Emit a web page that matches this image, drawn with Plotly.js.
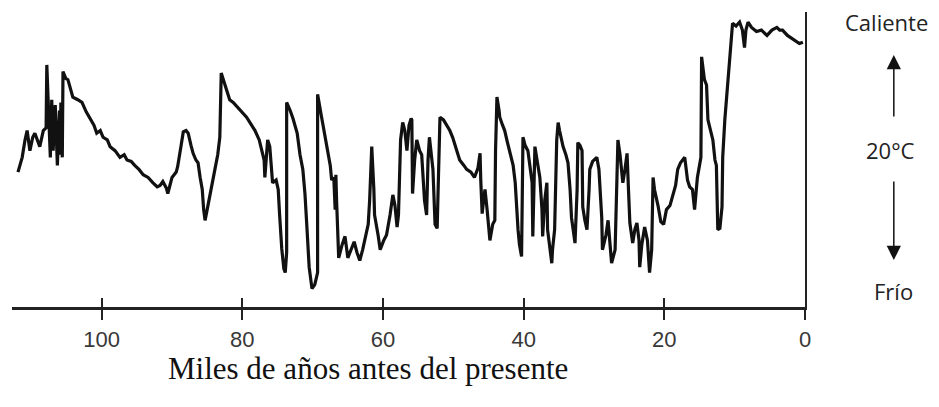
<!DOCTYPE html>
<html>
<head>
<meta charset="utf-8">
<script src="https://cdn.plot.ly/plotly-3.0.1.min.js"></script>
<style>html,body{margin:0;padding:0;background:#fff;}#chart{width:939px;height:407px;}</style>
</head>
<body>
<div id="chart"></div>
<script>
// Thousands of years before present
const kyrBP = [
111.9,111.6,111.3,110.9,110.6,110.2,109.8,109.5,109.0,108.8,108.3,107.9,107.8,107.5,107.3,107.1,106.9,106.6,106.3,106.0,105.9,105.8,105.6,105.5,105.1,104.8,104.4,104.1,103.4,102.8,102.2,101.7,101.1,100.7,100.2,99.8,99.2,98.8,98.1,97.4,96.8,96.4,95.8,95.3,94.7,94.1,
93.4,92.7,92.1,91.7,91.3,90.8,90.6,90.3,90.0,89.4,89.2,88.7,88.4,88.0,87.7,87.3,87.0,86.6,86.3,86.0,85.7,85.5,85.3,85.0,84.7,84.3,83.9,83.5,83.2,83.0,82.6,82.2,81.8,81.3,80.8,80.3,79.8,79.4,78.8,78.2,77.6,77.2,76.9,76.8,76.5,76.4,76.1,75.8,75.7,75.2,74.9,74.7,74.4,74.1,73.9,73.7,73.7,
73.2,72.8,72.2,71.8,71.4,71.1,70.8,70.5,70.1,69.7,69.3,69.3,68.8,68.4,68.0,67.5,67.3,67.0,66.8,66.7,66.6,66.3,65.8,65.4,65.0,64.5,64.1,63.7,63.3,62.9,62.4,62.1,61.9,61.7,61.6,61.3,61.2,60.7,60.4,59.9,59.5,59.0,58.6,58.3,58.0,57.8,57.5,57.2,56.9,56.6,56.3,56.0,55.9,55.8,55.5,55.2,54.8,54.5,54.1,53.8,53.6,53.4,53.1,52.9,52.6,52.3,52.2,
51.9,51.4,50.9,50.5,50.1,49.5,49.1,48.5,48.1,47.5,47.0,46.5,46.2,46.1,45.9,45.7,45.5,45.2,44.8,44.4,44.1,44.0,43.8,43.5,43.4,43.0,42.7,42.3,42.0,41.5,41.2,41.0,40.8,40.6,40.3,40.1,39.8,39.4,39.1,38.8,38.7,38.4,38.1,37.7,37.4,37.3,37.0,36.7,36.6,36.3,36.0,35.9,35.6,35.3,35.1,34.9,34.4,34.0,33.7,33.4,33.2,32.7,32.4,32.3,32.0,31.7,31.6,31.3,31.0,30.7,30.6,30.2,29.6,29.3,28.9,28.8,28.3,28.0,27.8,27.5,27.0,26.8,26.6,26.3,25.9,25.6,25.3,25.1,24.9,24.5,24.2,23.9,23.6,23.5,23.2,22.8,22.4,22.1,21.8,21.6,21.4,20.9,20.5,20.1,
19.7,19.2,18.8,18.4,18.1,17.7,17.1,16.7,16.4,16.0,15.7,15.3,14.8,14.7,14.3,14.0,13.8,13.4,13.1,12.8,12.6,12.4,12.1,11.8,11.7,11.4,11.1,10.8,10.7,10.3,9.8,9.3,8.9,8.6,8.4,8.1,7.6,6.9,6.2,5.4,4.7,4.0,3.6,3.2,2.5,1.9,1.2,0.8,0.3
];
// Temperature relative to the warmest level (°C)
const tempAnomaly = [
-11.2,-10.7,-10.1,-8.8,-8.1,-9.6,-8.6,-8.3,-9.0,-9.3,-8.1,-7.9,-3.2,-7.3,-10.1,-5.8,-9.6,-6.2,-10.7,-6.6,-9.9,-6.0,-10.1,-3.7,-4.2,-4.3,-5.1,-5.6,-5.8,-6.0,-6.7,-7.2,-7.7,-8.3,-8.1,-8.6,-8.8,-9.3,-9.6,-10.1,-9.9,-10.3,-10.4,-10.7,-11.0,-11.4,
-11.6,-12.0,-12.3,-12.2,-11.9,-12.4,-12.8,-12.2,-11.6,-11.2,-10.8,-9.2,-8.2,-8.1,-8.3,-9.2,-9.8,-10.3,-10.5,-11.6,-12.5,-14.0,-14.8,-14.0,-13.1,-12.2,-11.0,-9.9,-8.6,-3.8,-4.5,-5.3,-5.8,-6.0,-6.3,-6.6,-6.9,-7.1,-7.6,-8.1,-8.8,-9.6,-10.3,-11.6,-9.2,-8.8,-9.3,-11.0,-12.0,-11.8,-12.5,-14.4,-16.9,-18.4,-18.7,-17.2,-6.0,
-6.6,-7.2,-8.3,-9.9,-11.0,-12.8,-15.5,-18.3,-19.9,-19.6,-18.7,-5.4,-6.9,-8.1,-9.2,-10.7,-11.8,-11.6,-14.0,-11.4,-13.3,-17.6,-16.6,-16.0,-17.6,-16.9,-16.4,-17.2,-17.8,-17.0,-15.7,-15.1,-13.3,-9.6,-9.3,-12.5,-14.4,-15.9,-17.0,-16.3,-15.9,-14.4,-12.9,-13.7,-15.3,-14.4,-8.8,-7.5,-8.1,-9.6,-7.7,-7.2,-7.3,-12.8,-10.3,-8.8,-9.6,-9.9,-13.3,-14.4,-10.3,-8.6,-10.3,-11.0,-15.1,-15.4,-13.3,
-7.1,-7.3,-7.7,-8.1,-8.6,-9.6,-10.3,-10.7,-11.0,-11.2,-11.6,-10.9,-9.8,-11.8,-14.3,-13.3,-12.5,-14.0,-16.3,-15.1,-14.8,-9.6,-5.6,-6.6,-7.1,-7.7,-8.1,-9.0,-9.6,-10.7,-12.0,-14.0,-15.5,-16.6,-17.5,-8.6,-9.2,-9.6,-11.0,-12.0,-16.0,-9.3,-10.3,-11.6,-14.0,-16.0,-13.3,-12.0,-15.5,-16.6,-18.0,-17.0,-15.5,-8.8,-7.5,-8.1,-9.3,-9.9,-10.5,-12.5,-14.6,-16.5,-12.5,-9.0,-9.2,-9.6,-13.8,-14.8,-15.5,-12.5,-11.0,-10.4,-10.1,-11.0,-14.6,-17.0,-15.9,-14.8,-16.3,-18.0,-17.0,-11.8,-8.8,-9.9,-12.0,-11.0,-9.8,-12.5,-15.0,-16.5,-15.5,-15.0,-16.3,-18.3,-16.6,-15.3,-16.3,-18.7,-17.0,-11.6,-12.5,-13.7,-14.9,-15.1,
-14.0,-13.7,-12.9,-12.2,-11.0,-10.5,-10.1,-11.8,-12.3,-12.5,-14.0,-11.6,-10.1,-2.6,-4.3,-4.7,-7.3,-8.1,-8.8,-10.3,-10.7,-15.5,-15.4,-13.8,-10.1,-7.3,-5.3,-3.6,-2.3,-0.1,-0.3,0.0,-0.6,-1.9,-0.6,0.0,-0.4,-0.7,-0.6,-1.0,-0.6,-0.4,-0.6,-0.6,-1.0,-1.2,-1.5,-1.6,-1.5
];
const tickValues = [100, 80, 60, 40, 20, 0];
const tickLabels = ['100', '80', '60', '40', '20', '0'];
const xTitle = 'Miles de años antes del presente';
const scaleLabels = ['Caliente', '20°C', 'Frío'];

const traces = [
  {
    x: kyrBP, y: tempAnomaly, type: 'scatter', mode: 'lines',
    line: {color: '#111', width: 3.2},
    hoverinfo: 'x+y', showlegend: false
  },
  {
    x: [], y: [], type: 'scatter', mode: 'lines', xaxis: 'x2', yaxis: 'y',
    showlegend: false, hoverinfo: 'skip'
  }
];

const tickFont = {family: '"Liberation Sans Narrow", "Liberation Sans", Arial, sans-serif', size: 22, color: '#383838'};
const sideFont = {family: '"Open Sans", "Noto Sans", sans-serif', size: 22, color: '#222'};

const layout = {
  width: 939, height: 407,
  margin: {l: 12, r: 134, t: 12, b: 100, pad: 0},
  paper_bgcolor: '#fff', plot_bgcolor: '#fff',
  showlegend: false,
  xaxis: {
    range: [112.75, 0], showgrid: false, zeroline: false,
    showline: true, linecolor: '#222', linewidth: 2.5,
    tickmode: 'array', tickvals: tickValues, ticktext: tickLabels,
    ticks: 'outside', ticklen: 10, tickwidth: 2, tickcolor: '#222',
    tickfont: tickFont, ticklabelstandoff: 1
  },
  xaxis2: {
    overlaying: 'x', anchor: 'y', side: 'bottom', matches: 'x',
    range: [112.75, 0], showgrid: false, zeroline: false, showline: false,
    tickmode: 'array', tickvals: tickValues, showticklabels: false,
    ticks: 'inside', ticklen: 9, tickwidth: 2, tickcolor: '#222'
  },
  yaxis: {
    range: [-21.27, 0.75], side: 'right', showgrid: false, zeroline: false,
    showline: true, linecolor: '#222', linewidth: 2,
    showticklabels: false, ticks: ''
  },
  annotations: [
    {xref: 'paper', yref: 'paper', x: 0.449, y: -0.21, xanchor: 'center', yanchor: 'middle',
     text: xTitle, showarrow: false,
     font: {family: '"Liberation Serif", "Times New Roman", serif', size: 31, color: '#111'}},
    {xref: 'paper', yref: 'paper', x: 1.1034, y: 0.966, xanchor: 'center', yanchor: 'middle',
     text: scaleLabels[0], showarrow: false, font: sideFont},
    {xref: 'paper', yref: 'paper', x: 1.1072, y: 0.532, xanchor: 'center', yanchor: 'middle',
     text: scaleLabels[1], showarrow: false, font: sideFont},
    {xref: 'paper', yref: 'paper', x: 1.111, y: 0.055, xanchor: 'center', yanchor: 'middle',
     text: scaleLabels[2], showarrow: false, font: sideFont},
    {xref: 'paper', yref: 'paper', x: 1.112, y: 0.854, text: '', showarrow: true,
     ax: 0, ay: 63, arrowhead: 2, arrowsize: 1.9, arrowwidth: 1.5, arrowcolor: '#111', standoff: 0, startstandoff: 0},
    {xref: 'paper', yref: 'paper', x: 1.112, y: 0.159, text: '', showarrow: true,
     ax: 0, ay: -80, arrowhead: 2, arrowsize: 1.9, arrowwidth: 1.5, arrowcolor: '#111', standoff: 0, startstandoff: 0}
  ]
};

Plotly.newPlot('chart', traces, layout, {displayModeBar: false, staticPlot: true});
</script>
</body>
</html>
